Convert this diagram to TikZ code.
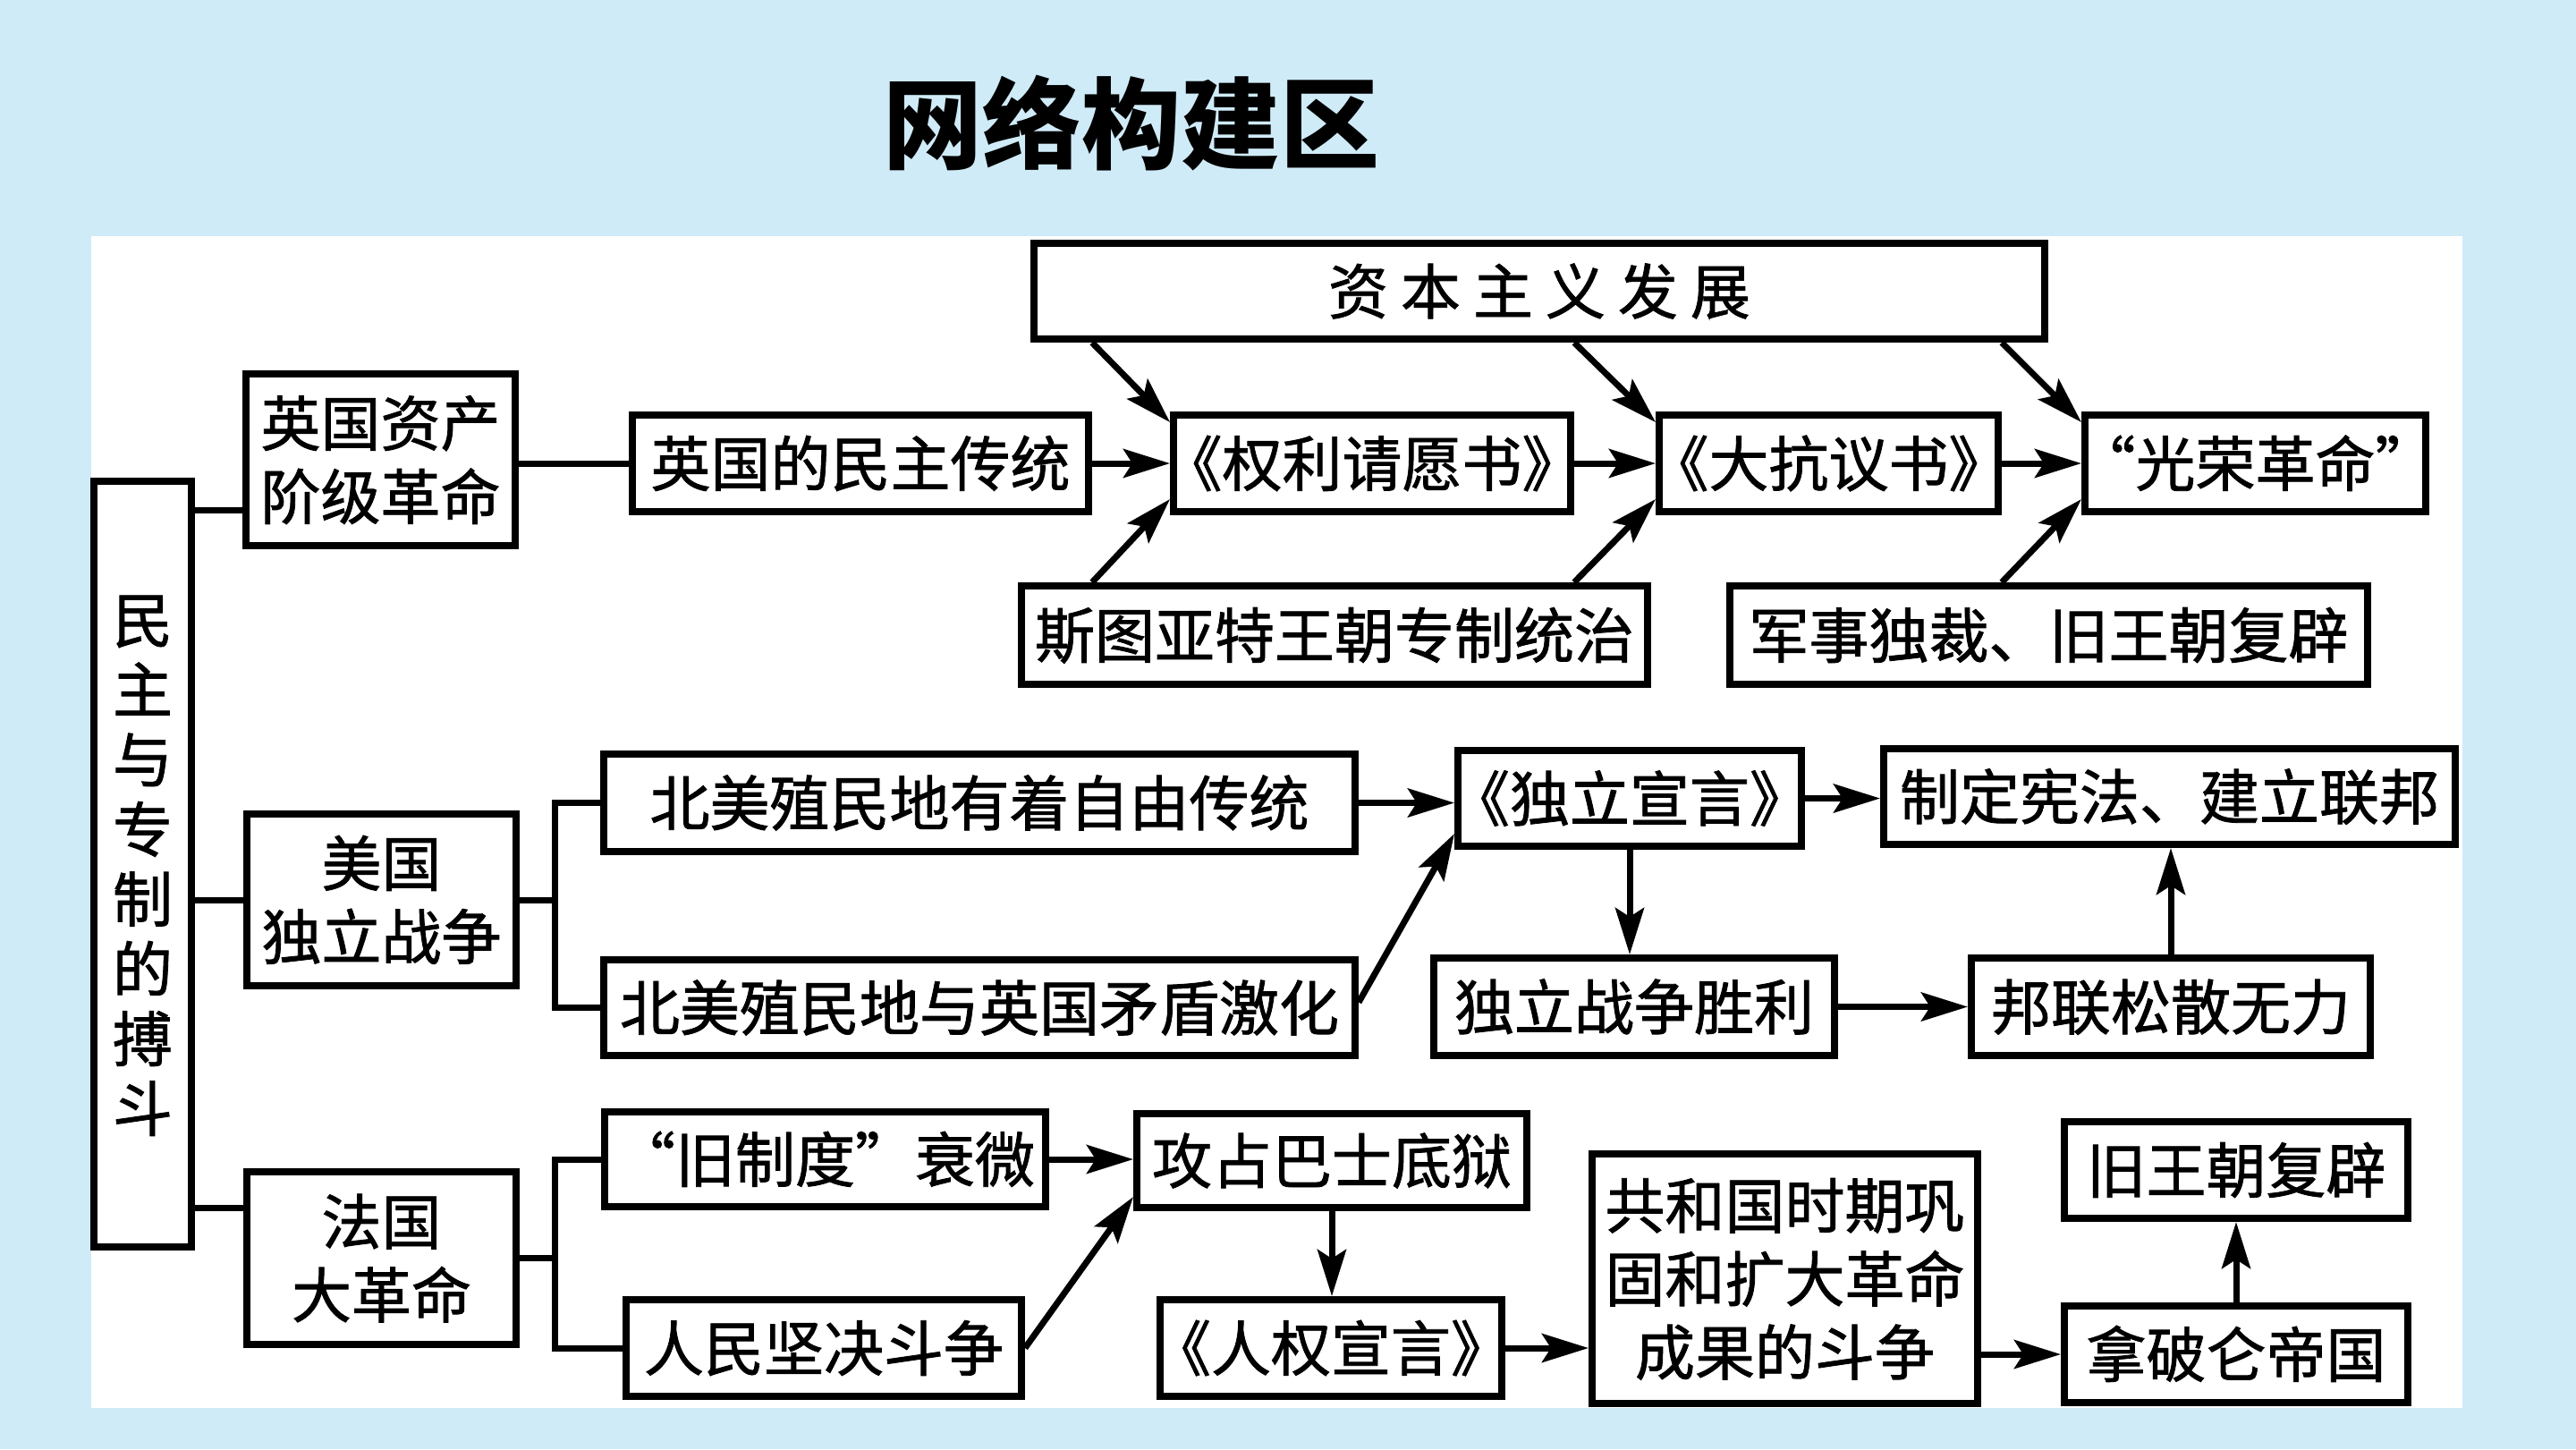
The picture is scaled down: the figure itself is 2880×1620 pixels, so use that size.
\documentclass[tikz,border=0pt]{standalone}
\usepackage{fontspec}
\setmainfont{Noto Sans CJK SC}
\newfontfamily\boxfont{Noto Sans CJK SC}[FakeBold=1.2]
\usetikzlibrary{arrows.meta,calc}
\definecolor{bgblue}{RGB}{208,235,248}
\newcommand{\gapsp}{\hspace{3.5pt}}
\newcommand{\tk}{\kern-0.35em}
\newcommand{\cj}[1]{\raisebox{0pt}[0.88em][0.12em]{#1}}
\newcommand{\bxat}[7]{\node[bx,#7,minimum width={(#4-#2)*0.25pt},minimum height={(#5-#3)*0.25pt}] (#1) at ({(#2+#4)/2},{(#3+#5)/2}) {#6};}
\begin{document}
\begin{tikzpicture}[x=0.25pt,y=-0.25pt,
  bx/.style={draw,line width=2pt,inner sep=0pt,fill=white,font=\boxfont\fontsize{16.75}{20.5}\selectfont,align=center},
  vbx/.style={font=\boxfont\fontsize{16.75}{19.5}\selectfont},
  ar/.style={line width=1.75pt,-{Stealth[length=13pt,width=8pt,inset=2.5pt]}},
  ln/.style={line width=1.75pt}]
\useasboundingbox (0,0) rectangle (2880,1620);
\fill[bgblue] (0,0) rectangle (2880,1620);
\fill[white] (102,264) rectangle (2753,1574);
\node[font=\fontsize{27.75}{30}\selectfont\bfseries] (title) at (1265,138) {\cj{网络构建区}};
% England
\bxat{ziben}{1156}{272}{2286}{379}{\cj{资\gapsp 本\gapsp 主\gapsp 义\gapsp 发\gapsp 展}}{}
\bxat{minzhu}{707}{464}{1217}{572}{\cj{英国的民主传统}}{}
\bxat{quanli}{1312}{464}{1756}{572}{\cj{\tk《权利请愿书》\tk}}{}
\bxat{kangyi}{1855}{464}{2234}{572}{\cj{\tk《大抗议书》\tk}}{}
\bxat{guangrong}{2331}{464}{2712}{572}{\cj{\tk“光荣革命”\tk}}{}
\bxat{situ}{1142}{655}{1842}{765}{\cj{斯图亚特王朝专制统治}}{}
\bxat{junshi}{1934}{655}{2647}{765}{\cj{军事独裁、旧王朝复辟}}{}
% left
\bxat{main}{105}{538}{214}{1394}{\cj{民}\\\cj{主}\\\cj{与}\\\cj{专}\\\cj{制}\\\cj{的}\\\cj{搏}\\\cj{斗}}{vbx}
\bxat{ying}{275}{418}{576}{610}{\cj{英国资产}\\\cj{阶级革命}}{}
\bxat{mei}{276}{910}{577}{1102}{\cj{美国}\\\cj{独立战争}}{}
\bxat{fa}{276}{1310}{577}{1503}{\cj{法国}\\\cj{大革命}}{}
% America
\bxat{bm1}{675}{843}{1515}{952}{\cj{北美殖民地有着自由传统}}{}
\bxat{bm2}{675}{1073}{1515}{1180}{\cj{北美殖民地与英国矛盾激化}}{}
\bxat{duli}{1630}{839}{2014}{946}{\cj{\tk《独立宣言》\tk}}{}
\bxat{xianfa}{2106}{837}{2745}{944}{\cj{制定宪法、建立联邦}}{}
\bxat{shengli}{1603}{1071}{2051}{1180}{\cj{独立战争胜利}}{}
\bxat{banglian}{2204}{1071}{2650}{1180}{\cj{邦联松散无力}}{}
% France
\bxat{jiu}{676}{1243}{1169}{1349}{\cj{“旧制度”衰微}}{}
\bxat{renmin}{700}{1453}{1142}{1561}{\cj{人民坚决斗争}}{}
\bxat{gongzhan}{1271}{1245}{1707}{1350}{\cj{攻占巴士底狱}}{}
\bxat{renquan}{1297}{1453}{1679}{1561}{\cj{\tk《人权宣言》\tk}}{}
\bxat{gonghe}{1780}{1290}{2211}{1569}{\cj{共和国时期巩}\\\cj{固和扩大革命}\\\cj{成果的斗争}}{}
\bxat{napo}{2308}{1460}{2692}{1568}{\cj{拿破仑帝国}}{}
\bxat{fubi}{2308}{1254}{2692}{1362}{\cj{旧王朝复辟}}{}
% left connectors
\coordinate (yl) at ([yshift=-14pt]ying.west);
\draw[ln] (main.east |- yl) -- (yl);
\draw[ln] (minzhu.west -| ying.east) -- (minzhu.west);
\draw[ln] (mei.west -| main.east) -- (mei.west);
\coordinate (fl) at ([yshift=14pt]fa.west);
\draw[ln] (main.east |- fl) -- (fl);
\coordinate (mb) at (620,1006);
\draw[ln] (mei.east) -- (mei.east -| mb);
\draw[ln,line join=miter] (bm1.west) -| (mb) |- (bm2.west);
\coordinate (fb) at (620,1406);
\draw[ln] (fa.east) -- (fa.east -| fb);
\draw[ln,line join=miter] (jiu.west) -| (fb) |- (renmin.west);
% England arrows
\draw[ar] (minzhu.east) -- (quanli.west);
\draw[ar] (quanli.east) -- (kangyi.west);
\draw[ar] (kangyi.east) -- (guangrong.west);
\draw[ar] (ziben.south -| minzhu.east) -- ([yshift=-3pt]quanli.north west);
\draw[ar] (ziben.south -| quanli.east) -- ([yshift=-3pt]kangyi.north west);
\draw[ar] (ziben.south -| kangyi.east) -- ([yshift=-3pt]guangrong.north west);
\draw[ar] (situ.north -| minzhu.east) -- ([yshift=4.5pt]quanli.south west);
\draw[ar] (situ.north -| quanli.east) -- ([yshift=4.5pt]kangyi.south west);
\draw[ar] (junshi.north -| kangyi.east) -- ([yshift=4.5pt]guangrong.south west);
% America arrows
\draw[ar] (bm1.east) -- (bm1.east -| duli.west);
\draw[ar] ([yshift=1.5pt]bm2.east) -- ([yshift=4.5pt]duli.south west);
\draw[ar] (duli.east) -- (duli.east -| xianfa.west);
\draw[ar] (duli.south) -- (duli.south |- shengli.north);
\draw[ar] (shengli.east) -- (banglian.west);
\draw[ar] (banglian.north) -- (banglian.north |- xianfa.south);
% France arrows
\draw[ar] (jiu.east) -- (jiu.east -| gongzhan.west);
\draw[ar] (renmin.east) -- ([yshift=4pt]gongzhan.south west);
\draw[ar] (gongzhan.south) -- (gongzhan.south |- renquan.north);
\draw[ar] (renquan.east) -- (renquan.east -| gonghe.west);
\draw[ar] (napo.west -| gonghe.east) -- (napo.west);
\draw[ar] (napo.north) -- (napo.north |- fubi.south);
\end{tikzpicture}
\end{document}
